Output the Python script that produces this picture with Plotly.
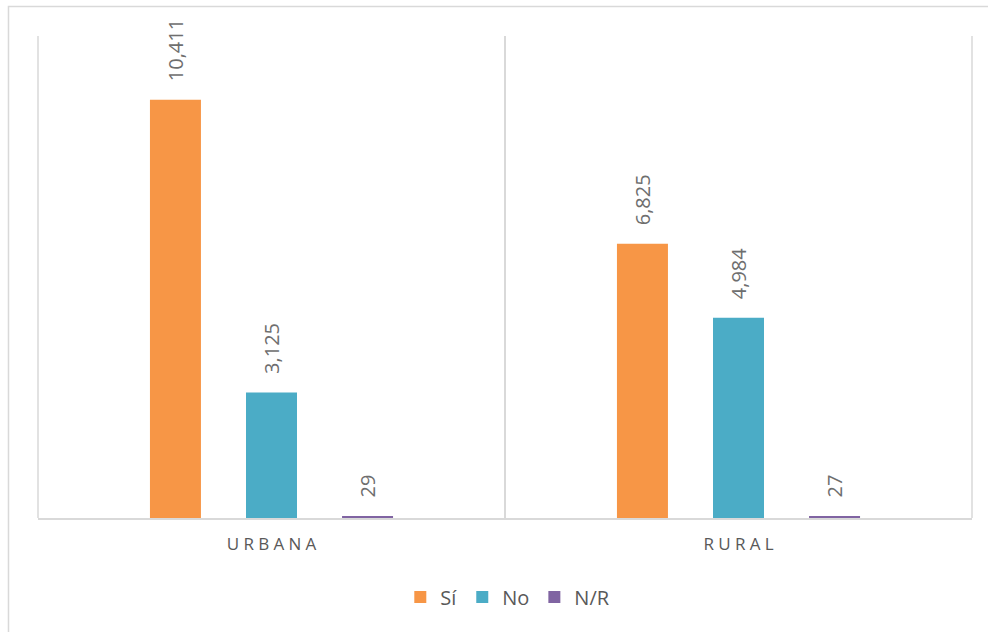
import plotly.graph_objects as go

# Respuestas por zona
categories = ["URBANA", "RURAL"]
category_labels = ["U\u2005R\u2005B\u2005A\u2005N\u2005A", "R\u2005U\u2005R\u2005A\u2005L"]
series_names = ["Sí", "No", "N/R"]
si_values = [10411, 6825]
no_values = [3125, 4984]
nr_values = [29, 27]

colors = ["#F79646", "#4BACC6", "#8064A2"]
label_color = "#595959"
value_color = "#6E6E6E"
line_color = "#D9D9D9"
font_family = "Open Sans, Lato, sans-serif"

fig = go.Figure()
for name, vals, col in zip(series_names, [si_values, no_values, nr_values], colors):
    fig.add_trace(go.Bar(
        name=name,
        x=categories,
        y=vals,
        marker=dict(color=col, line=dict(width=0)),
        texttemplate="\u00a0\u00a0\u00a0%{y:,}",
        textposition="outside",
        textangle=-90,
        constraintext="none",
        textfont=dict(family=font_family, size=20, color=value_color),
        cliponaxis=False,
        hoverinfo="skip",
    ))

# frame lines at the outer edges of the plot area, plus outer border
edge_lines = [
    dict(type="line", xref="paper", yref="paper", x0=xp, x1=xp, y0=0, y1=1,
         line=dict(color=line_color, width=1.5), layer="below")
    for xp in (0, 1)
]
outer_border = dict(
    type="rect", xref="paper", yref="paper",
    x0=-0.0316, x1=1.2, y0=-0.4, y1=1.0612,
    line=dict(color=line_color, width=1.5),
    fillcolor="rgba(0,0,0,0)",
    layer="below",
)

fig.update_layout(
    width=988,
    height=632,
    margin=dict(l=38, r=16, t=36, b=114),
    paper_bgcolor="white",
    plot_bgcolor="white",
    barmode="group",
    bargap=0.383,
    bargroupgap=0.469,
    font=dict(family=font_family, color=label_color),
    showlegend=True,
    legend=dict(
        orientation="h",
        x=0.503, xanchor="center",
        y=-0.164, yanchor="middle",
        font=dict(family=font_family, size=20, color=label_color),
        itemwidth=30,
        tracegroupgap=0,
    ),
    xaxis=dict(
        type="category",
        tickmode="array",
        tickvals=categories,
        ticktext=category_labels,
        tickson="boundaries",
        ticks="",
        showgrid=True,
        gridcolor=line_color,
        gridwidth=1.5,
        showline=True,
        linecolor=line_color,
        linewidth=2,
        tickfont=dict(family=font_family, size=17, color=label_color),
        ticklabelstandoff=10,
        fixedrange=True,
    ),
    yaxis=dict(
        range=[0, 12000],
        showticklabels=False,
        showgrid=False,
        zeroline=False,
        showline=False,
        ticks="",
        fixedrange=True,
    ),
    shapes=edge_lines + [outer_border],
)

fig.write_html("out.html", config=dict(displayModeBar=False))
